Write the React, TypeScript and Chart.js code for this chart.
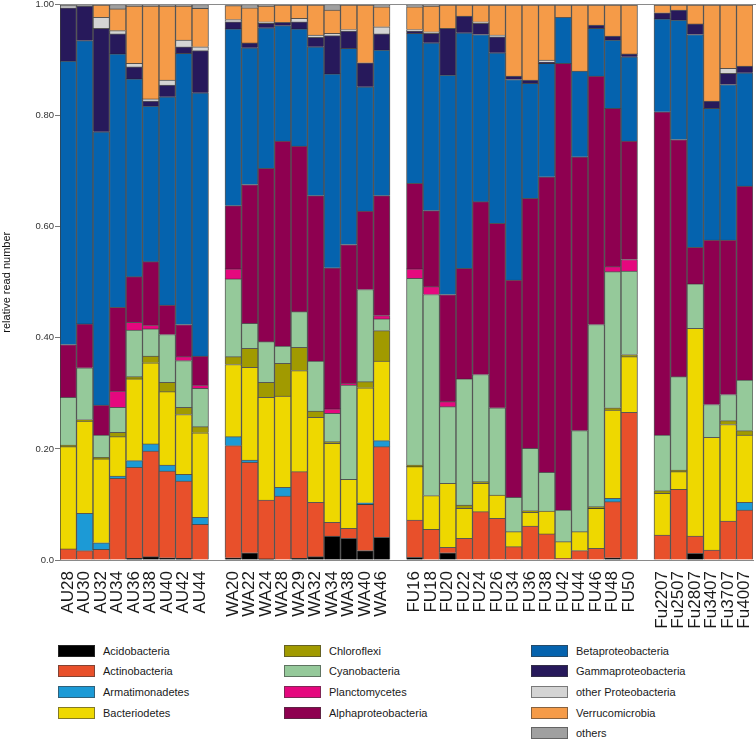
import React, { useEffect, useRef } from 'react';
import { Chart, registerables } from 'chart.js';

Chart.register(...registerables);

// ---- categories (sample names per site group) ----
const auSamples = ['AU28', 'AU30', 'AU32', 'AU34', 'AU36', 'AU38', 'AU40', 'AU42', 'AU44'];
const waSamples = ['WA20', 'WA22', 'WA24', 'WA28', 'WA29', 'WA32', 'WA34', 'WA38', 'WA40', 'WA46'];
const fuSamples = ['FU16', 'FU18', 'FU20', 'FU22', 'FU24', 'FU26', 'FU34', 'FU36', 'FU38', 'FU42', 'FU44', 'FU46', 'FU48', 'FU50'];
const fu2Samples = ['Fu2207', 'Fu2507', 'Fu2807', 'Fu3407', 'Fu3707', 'Fu4007'];

// ---- y ticks ----
const yTickValues = [0, 0.2, 0.4, 0.6, 0.8, 1.0];
const yTickLabels = ['0.0', '0.20', '0.40', '0.60', '0.80', '1.00'];

// ---- series values (relative read number), order: AU (9), WA (10), FU (14), Fu (6) ----
const acidobacteria = [
  0, 0, 0, 0, 0.003, 0.006, 0.004, 0.003, 0,
  0.004, 0.013, 0.002, 0, 0.003, 0.006, 0.043, 0.039, 0.017, 0.041,
  0.005, 0, 0.013, 0, 0, 0, 0, 0, 0, 0, 0, 0, 0.004, 0,
  0, 0, 0.012, 0, 0, 0,
];
const actinobacteria = [
  0.020, 0.017, 0.019, 0.147, 0.164, 0.190, 0.156, 0.139, 0.064,
  0.202, 0.163, 0.106, 0.115, 0.156, 0.098, 0.025, 0.018, 0.083, 0.163,
  0.067, 0.055, 0.010, 0.039, 0.087, 0.075, 0.024, 0.061, 0.047, 0.003, 0.017, 0.021, 0.101, 0.266,
  0.045, 0.127, 0.031, 0.018, 0.070, 0.090,
];
const armatimonadetes = [
  0, 0.067, 0.012, 0.004, 0.012, 0.013, 0.011, 0.012, 0.013,
  0.016, 0.004, 0, 0.016, 0, 0, 0, 0, 0.003, 0.011,
  0, 0, 0, 0, 0, 0, 0, 0, 0, 0, 0, 0, 0.006, 0,
  0, 0, 0, 0, 0, 0.014,
];
const bacteriodetes = [
  0.184, 0.166, 0.151, 0.071, 0.147, 0.146, 0.132, 0.108, 0.152,
  0.130, 0.167, 0.185, 0.164, 0.182, 0.153, 0.142, 0.088, 0.207, 0.143,
  0.096, 0.061, 0.115, 0.054, 0.051, 0.042, 0.027, 0.025, 0.041, 0.030, 0.034, 0.072, 0.159, 0.100,
  0.075, 0.032, 0.374, 0.203, 0.174, 0.121,
];
const chloroflexi = [
  0.003, 0.003, 0.003, 0.008, 0.004, 0.012, 0.017, 0.013, 0.011,
  0.014, 0.034, 0.027, 0.059, 0.042, 0.011, 0.003, 0, 0.011, 0.055,
  0.003, 0, 0, 0.006, 0.003, 0, 0, 0.003, 0, 0, 0, 0.003, 0.004, 0.004,
  0.005, 0.003, 0, 0, 0.007, 0.008,
];
const cyanobacteria = [
  0.086, 0.093, 0.040, 0.045, 0.084, 0.049, 0.086, 0.084, 0.069,
  0.140, 0.045, 0.073, 0.031, 0.064, 0.090, 0.051, 0.170, 0.166, 0.021,
  0.336, 0.362, 0.138, 0.227, 0.193, 0.157, 0.062, 0.112, 0.070, 0.057, 0.182, 0.328, 0.245, 0.150,
  0.100, 0.168, 0.080, 0.059, 0.047, 0.091,
];
const planctomycetes = [
  0, 0, 0, 0.029, 0.014, 0.007, 0, 0.007, 0.006,
  0.018, 0, 0, 0, 0, 0, 0.008, 0.003, 0, 0.006,
  0.017, 0.014, 0.009, 0, 0, 0, 0, 0, 0, 0, 0, 0, 0.009, 0.021,
  0, 0, 0, 0, 0, 0,
];
const alphaproteobacteria = [
  0.095, 0.079, 0.054, 0.151, 0.082, 0.114, 0.053, 0.058, 0.052,
  0.114, 0.250, 0.312, 0.369, 0.298, 0.298, 0.254, 0.250, 0.141, 0.216,
  0.154, 0.137, 0.193, 0.199, 0.311, 0.332, 0.391, 0.450, 0.532, 0.804, 0.493, 0.447, 0.285, 0.213,
  0.582, 0.427, 0.066, 0.296, 0.278, 0.349,
];
const betaproteobacteria = [
  0.510, 0.510, 0.492, 0.456, 0.356, 0.280, 0.375, 0.488, 0.474,
  0.318, 0.246, 0.253, 0.208, 0.211, 0.268, 0.349, 0.353, 0.224, 0.262,
  0.270, 0.302, 0.395, 0.424, 0.301, 0.307, 0.361, 0.207, 0.204, 0.083, 0.154, 0.086, 0.123, 0.152,
  0.167, 0.215, 0.383, 0.237, 0.280, 0.204,
];
const gammaproteobacteria = [
  0.096, 0.062, 0.186, 0.036, 0.022, 0.009, 0.021, 0.012, 0.076,
  0.013, 0.009, 0.008, 0.006, 0.013, 0.017, 0.069, 0.031, 0.043, 0.029,
  0.004, 0.017, 0.084, 0.030, 0.020, 0.029, 0.006, 0.006, 0.002, 0, 0, 0.006, 0.007, 0.005,
  0.011, 0.018, 0.019, 0.013, 0.020, 0.012,
];
const otherProteobacteria = [
  0.004, 0, 0.020, 0.006, 0.006, 0.004, 0.009, 0.012, 0.007,
  0.004, 0, 0.003, 0, 0.006, 0.004, 0.004, 0.003, 0, 0.013,
  0.003, 0.003, 0, 0, 0.003, 0.003, 0, 0, 0.004, 0, 0, 0, 0, 0,
  0, 0, 0, 0, 0.009, 0,
];
const verrucomicrobia = [
  0, 0, 0.022, 0.039, 0.103, 0.167, 0.133, 0.061, 0.069,
  0.025, 0.063, 0.028, 0.031, 0.024, 0.054, 0.042, 0.044, 0.104, 0.036,
  0.041, 0.046, 0.042, 0.020, 0.030, 0.054, 0.128, 0.135, 0.099, 0.022, 0.119, 0.036, 0.056, 0.088,
  0.014, 0.009, 0.034, 0.173, 0.114, 0.110,
];
const others = [
  0.002, 0.003, 0.001, 0.008, 0.003, 0.003, 0.003, 0.003, 0.007,
  0.002, 0.006, 0.003, 0.001, 0.001, 0.001, 0.010, 0.001, 0.001, 0.004,
  0.004, 0.003, 0.001, 0.001, 0.001, 0.001, 0.001, 0.001, 0.001, 0.001, 0.001, 0.001, 0.001, 0.001,
  0.001, 0.001, 0.001, 0.001, 0.001, 0.001,
];

const taxa = [
  { name: 'Acidobacteria', color: '#000000', values: acidobacteria },
  { name: 'Actinobacteria', color: '#E8502B', values: actinobacteria },
  { name: 'Armatimonadetes', color: '#1C9AD6', values: armatimonadetes },
  { name: 'Bacteriodetes', color: '#EED800', values: bacteriodetes },
  { name: 'Chloroflexi', color: '#A19A00', values: chloroflexi },
  { name: 'Cyanobacteria', color: '#95C99A', values: cyanobacteria },
  { name: 'Planctomycetes', color: '#E5087E', values: planctomycetes },
  { name: 'Alphaproteobacteria', color: '#8E0050', values: alphaproteobacteria },
  { name: 'Betaproteobacteria', color: '#0563AE', values: betaproteobacteria },
  { name: 'Gammaproteobacteria', color: '#27195B', values: gammaproteobacteria },
  { name: 'other Proteobacteria', color: '#D4D4D4', values: otherProteobacteria },
  { name: 'Verrucomicrobia', color: '#F59B48', values: verrucomicrobia },
  { name: 'others', color: '#A0A0A0', values: others },
];

const legendColumns = [
  ['Acidobacteria', 'Actinobacteria', 'Armatimonadetes', 'Bacteriodetes'],
  ['Chloroflexi', 'Cyanobacteria', 'Planctomycetes', 'Alphaproteobacteria'],
  ['Betaproteobacteria', 'Gammaproteobacteria', 'other Proteobacteria', 'Verrucomicrobia', 'others'],
];

const groups = [auSamples, waSamples, fuSamples, fu2Samples];

function buildLabels(): string[] {
  const out: string[] = [];
  groups.forEach((g, gi) => {
    if (gi > 0) out.push('');
    g.forEach((s) => out.push(s));
  });
  return out;
}

function withGaps(values: number[]): (number | null)[] {
  const out: (number | null)[] = [];
  let k = 0;
  groups.forEach((g, gi) => {
    if (gi > 0) out.push(null);
    g.forEach(() => {
      const v = values[k++];
      out.push(v > 0 ? v : null);
    });
  });
  return out;
}

const topLinePlugin = {
  id: 'topLine',
  afterDraw(chart: any) {
    const { ctx, chartArea, width } = chart;
    ctx.save();
    ctx.strokeStyle = '#8a8a8a';
    ctx.lineWidth = 1;
    ctx.beginPath();
    const y = Math.round(chartArea.top) - 0.5;
    ctx.moveTo(chartArea.left, y);
    ctx.lineTo(width, y);
    ctx.stroke();
    ctx.restore();
  },
};

const FONT = "'Liberation Sans', Arial, Helvetica, sans-serif";

export default function App() {
  const canvasRef = useRef<HTMLCanvasElement | null>(null);

  useEffect(() => {
    if (!canvasRef.current) return;
    const chart = new Chart(canvasRef.current, {
      type: 'bar',
      data: {
        labels: buildLabels(),
        datasets: taxa.map((t) => ({
          label: t.name,
          data: withGaps(t.values),
          backgroundColor: t.color,
          borderColor: 'rgba(35,35,35,0.75)',
          borderWidth: 1,
          barPercentage: 1,
          categoryPercentage: 1,
        })),
      },
      options: {
        animation: false,
        responsive: false,
        maintainAspectRatio: false,
        layout: { padding: { left: 0, right: 3, top: 4.5, bottom: 0 } },
        plugins: { legend: { display: false }, tooltip: { enabled: false } },
        scales: {
          x: {
            stacked: true,
            grid: { display: false },
            border: { display: true, color: '#8a8a8a', width: 1 },
            ticks: {
              autoSkip: false,
              minRotation: 90,
              maxRotation: 90,
              padding: 3,
              color: '#1a1a1a',
              font: { family: FONT, size: 17 },
            },
            afterFit: (s: any) => {
              s.height = 80;
              s.paddingLeft = 0;
              s.paddingRight = 0;
            },
          },
          y: {
            stacked: true,
            min: 0,
            max: 1,
            afterBuildTicks: (s: any) => {
              s.ticks = yTickValues.map((v) => ({ value: v }));
            },
            ticks: {
              callback: (_v: any, i: number) => yTickLabels[i],
              color: '#333333',
              padding: 1,
              font: { family: FONT, size: 9.5, lineHeight: 1 },
            },
            grid: { drawOnChartArea: false, drawTicks: true, tickLength: 5, color: '#777777' },
            border: { display: true, color: '#8a8a8a', width: 1 },
            title: {
              display: true,
              text: 'relative read number',
              color: '#111111',
              padding: 0,
              font: { family: FONT, size: 11 },
            },
            afterFit: (s: any) => {
              s.width = 60;
              s.paddingTop = 0;
              s.paddingBottom = 0;
            },
          },
        },
      },
      plugins: [topLinePlugin],
    });
    return () => chart.destroy();
  }, []);

  const colorOf = (n: string) => taxa.find((t) => t.name === n)!.color;
  const colLeft = [58, 284, 531];

  return (
    <div style={{ position: 'absolute', left: 0, top: 0, width: 756, height: 740, background: '#fff' }}>
      <canvas ref={canvasRef} width={756} height={640} style={{ display: 'block' }} />
      {legendColumns.map((col, ci) =>
        col.map((name, ri) => (
          <div
            key={name}
            style={{
              position: 'absolute',
              left: colLeft[ci],
              top: 650.7 + ri * 20.65 - 6,
              height: 12,
              display: 'flex',
              alignItems: 'center',
              whiteSpace: 'nowrap',
            }}
          >
            <div
              style={{
                width: 37,
                height: 12,
                background: colorOf(name),
                border: '1px solid rgba(60,60,60,0.6)',
                boxSizing: 'border-box',
              }}
            />
            <span
              style={{
                marginLeft: 8,
                fontFamily: FONT,
                fontSize: 11,
                color: '#1a1a1a',
                lineHeight: '12px',
              }}
            >
              {name}
            </span>
          </div>
        ))
      )}
    </div>
  );
}
